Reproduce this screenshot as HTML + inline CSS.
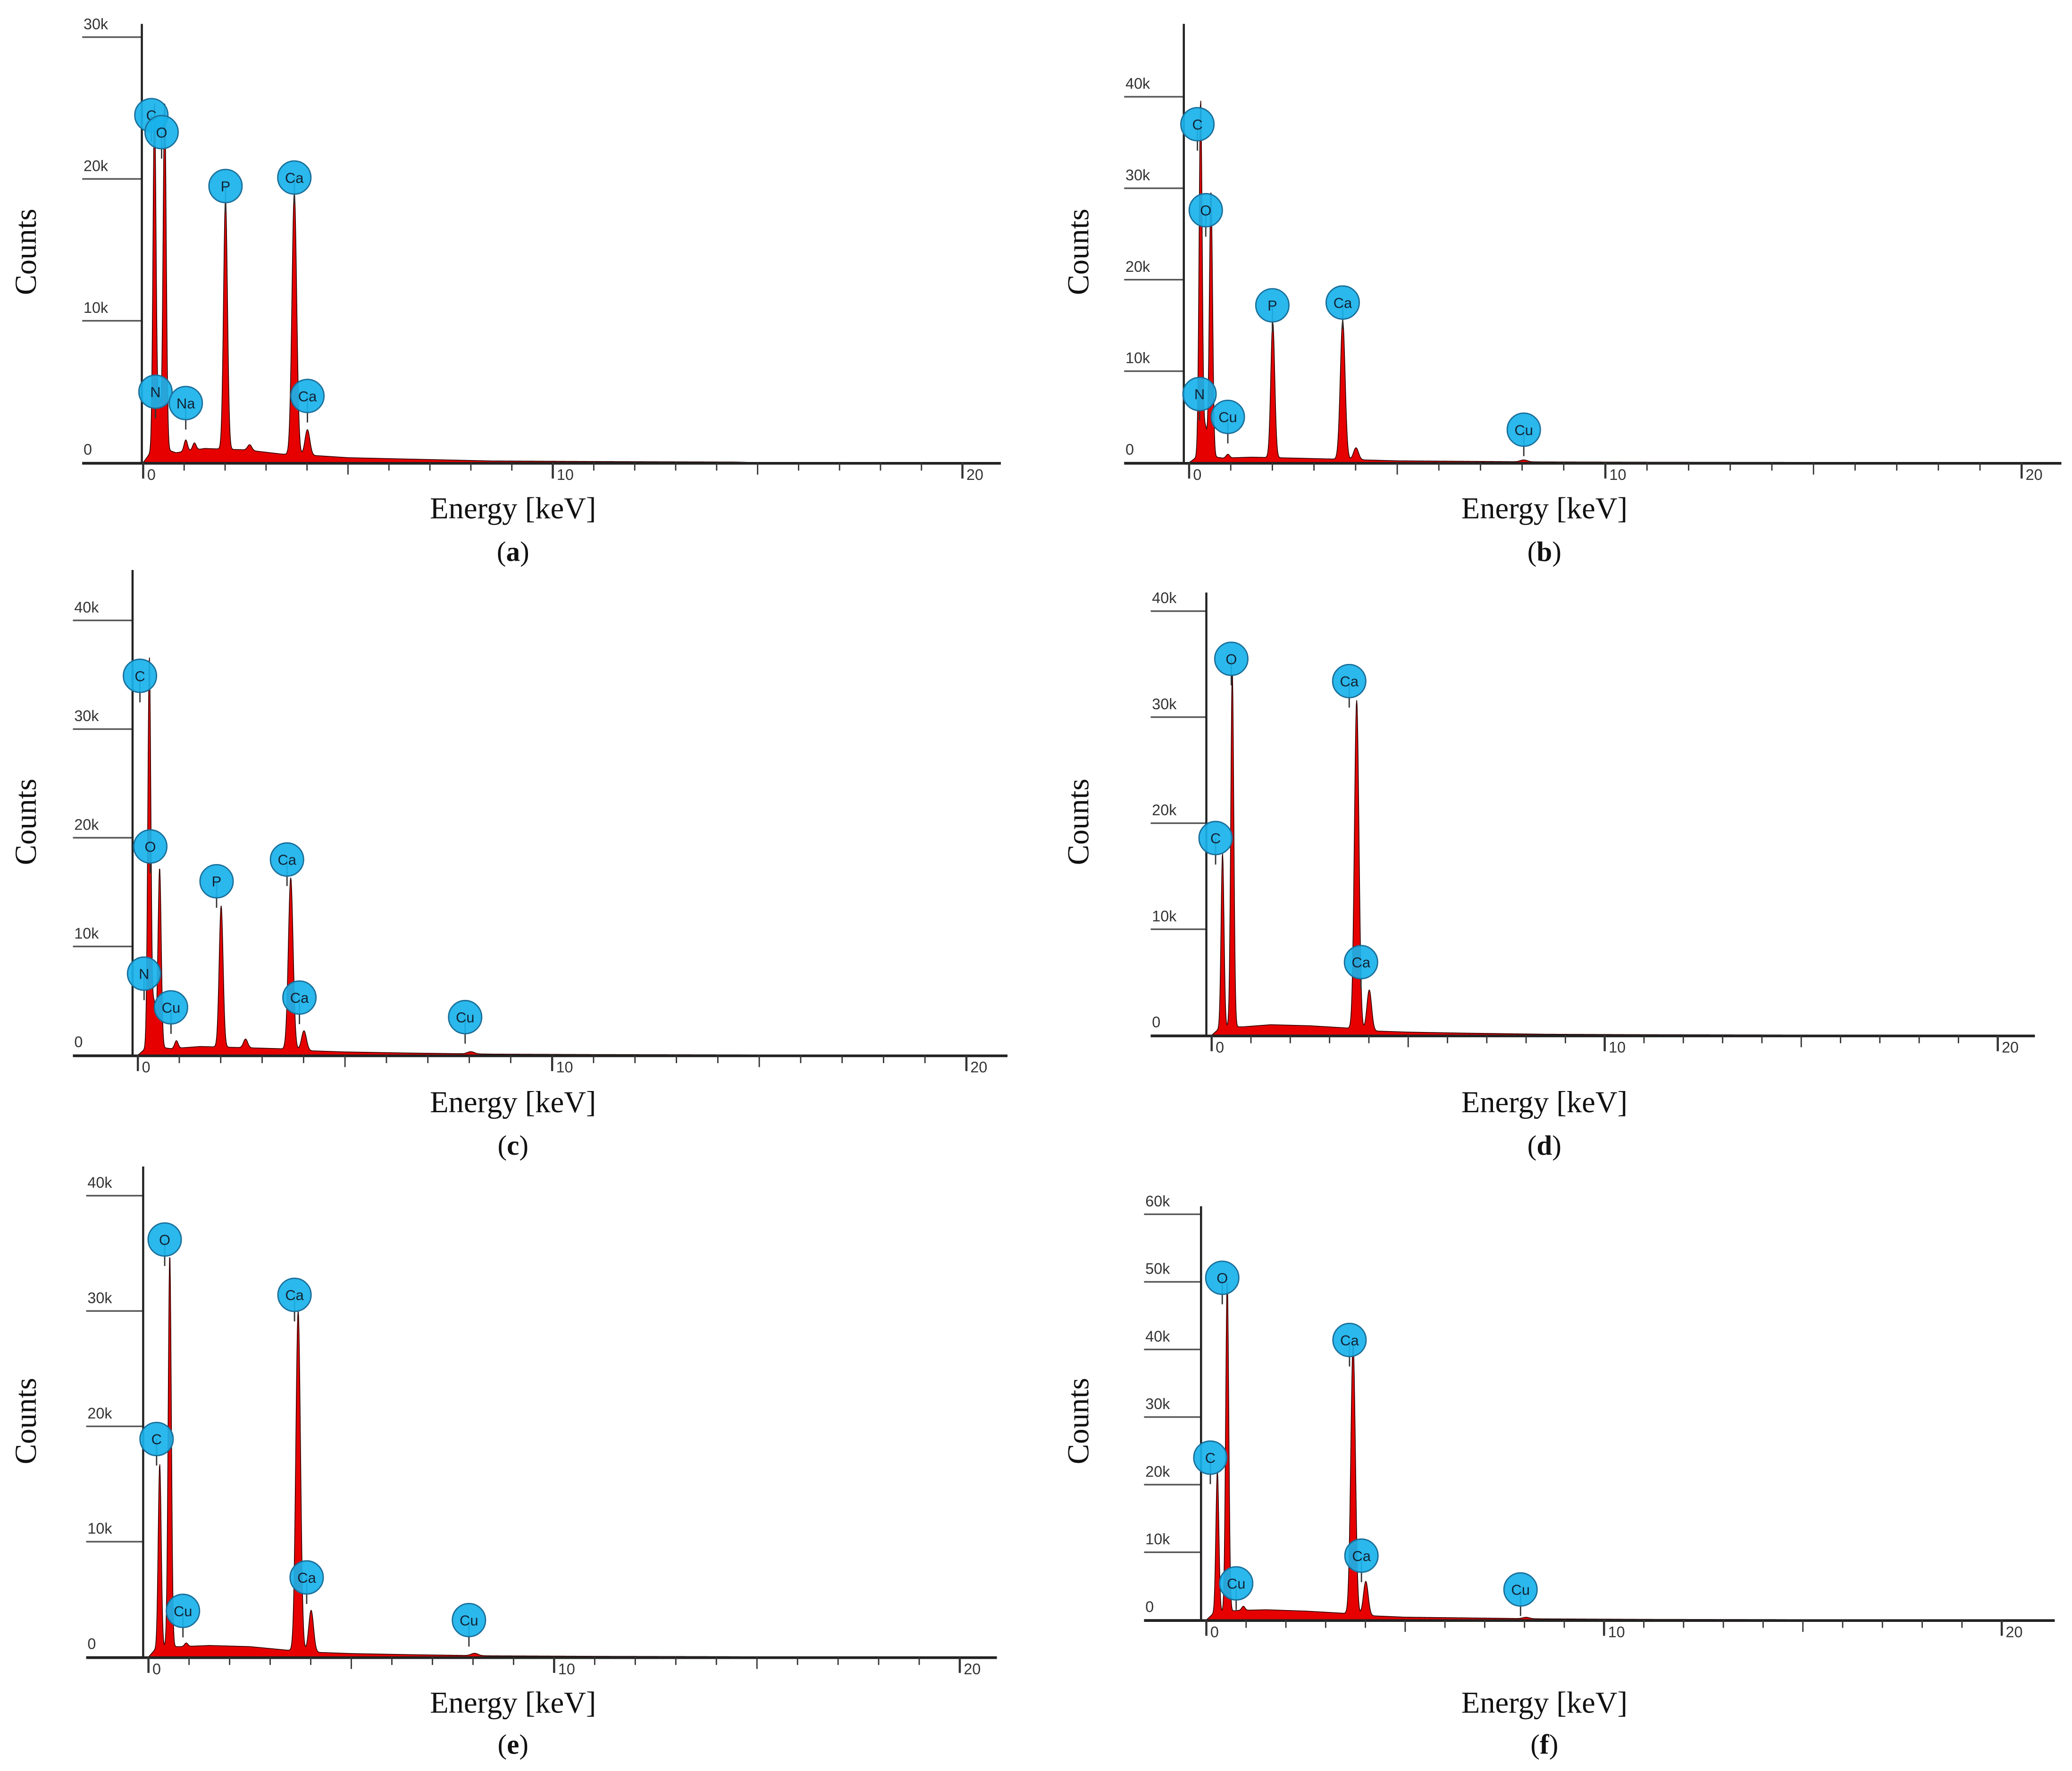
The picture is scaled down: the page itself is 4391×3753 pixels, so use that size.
<!DOCTYPE html>
<html><head><meta charset="utf-8"><style>
html,body{margin:0;padding:0;background:#fff}
svg{display:block}
.tk{font-family:"Liberation Sans",sans-serif;font-size:11.5px;fill:#333}
.ttl{font-family:"Liberation Serif",serif;font-size:23px;fill:#111}
.cap{font-family:"Liberation Serif",serif;font-size:21px;fill:#111}
.lb{font-family:"Liberation Sans",sans-serif;font-size:11px;fill:#123}
</style></head><body>
<svg id="fig" xmlns="http://www.w3.org/2000/svg" width="4391" height="3753" viewBox="0 0 1563 1336" preserveAspectRatio="none"></svg>
<script>
// ---- data (counts in thousands, energies in keV) ----
const yTicksA=[0,10,20,30], yTicksB=[0,10,20,30,40], yTicksC=[0,10,20,30,40], yTicksD=[0,10,20,30,40], yTicksE=[0,10,20,30,40], yTicksF=[0,10,20,30,40,50,60];
const xTickLabels=["0","10","20"];
const peaksA_E=[0.277,0.392,0.525,1.04,1.25,2.01,2.6,3.69,4.01];
const peaksA_H=[24.5,3.5,24.5,0.8,0.5,17.7,0.4,18.5,1.8];
const peaksB_E=[0.277,0.392,0.525,0.93,2.01,3.69,4.01,8.04];
const peaksB_H=[39,3,29,0.4,14.8,15.2,1.3,0.2];
const peaksC_E=[0.277,0.392,0.525,0.93,2.01,2.6,3.69,4.01,8.04];
const peaksC_H=[36,4,16.5,0.7,13,0.8,15.8,1.8,0.2];
const peaksD_E=[0.277,0.525,3.69,4.01];
const peaksD_H=[16.5,33.5,31,3.8];
const peaksE_E=[0.277,0.525,0.93,3.69,4.01,8.04];
const peaksE_H=[16,34,0.3,29.5,3.6,0.2];
const peaksF_E=[0.277,0.525,0.93,3.69,4.01,8.04];
const peaksF_H=[21,49,0.6,40,5,0.2];
const bgE=[0,0.15,0.4,0.8,1.5,2.5,3.4,4.2,5.0,6.5,8.5,11,14.5,15];
const bgA=[0,0.6,1.1,0.7,1.0,0.9,0.6,0.5,0.35,0.25,0.12,0.08,0.04,0];
const bgB=[0,0.5,0.8,0.5,0.6,0.5,0.4,0.3,0.2,0.15,0.08,0.05,0.03,0];
const bgC=[0,0.5,0.8,0.6,0.8,0.7,0.6,0.4,0.3,0.2,0.1,0.06,0.03,0];
const bgD=[0,0.5,0.8,0.8,1.0,0.9,0.7,0.4,0.3,0.2,0.1,0.06,0.03,0];
const bgE2=[0,0.6,0.9,0.9,1.0,0.9,0.6,0.4,0.3,0.2,0.1,0.06,0.03,0];
const bgF=[0,0.8,1.2,1.4,1.5,1.3,1.0,0.6,0.4,0.3,0.15,0.08,0.04,0];
const labA_N=["C","O","P","Ca","N","Na","Ca"], labA_E=[0.2,0.45,2.01,3.69,0.3,1.04,4.01], labA_Y=[24.5,23.3,19.5,20.1,5,4.2,4.7];
const labB_N=["C","O","P","Ca","N","Cu","Cu"], labB_E=[0.2,0.4,2.0,3.69,0.25,0.93,8.04], labB_Y=[37,27.6,17.2,17.5,7.5,5,3.6];
const labC_N=["C","O","P","Ca","N","Cu","Ca","Cu"], labC_E=[0.05,0.3,1.9,3.6,0.15,0.8,3.9,7.9], labC_Y=[34.9,19.2,16,18,7.5,4.4,5.3,3.5];
const labD_N=["O","Ca","C","Ca"], labD_E=[0.5,3.5,0.1,3.8], labD_Y=[35.5,33.4,18.6,6.9];
const labE_N=["O","Ca","C","Cu","Ca","Cu"], labE_E=[0.4,3.6,0.2,0.85,3.9,7.9], labE_Y=[36.2,31.4,18.9,4,6.9,3.2];
const labF_N=["O","Ca","C","Cu","Ca","Cu"], labF_E=[0.4,3.6,0.1,0.75,3.9,7.9], labF_Y=[50.6,41.4,24,5.4,9.5,4.5];

// ---- layout ----
const panels=[
 {id:"a",pe:peaksA_E,ph:peaksA_H,bg:bgA,ln:labA_N,le:labA_E,ly:labA_Y,yt:yTicksA,ax:107,atop:18,x0:108,x20:726,xend:755,y0:349,y10:242,tl:63,cx:20,cy:190,ex:387,ey:383,cpy:416},
 {id:"b",pe:peaksB_E,ph:peaksB_H,bg:bgB,ln:labB_N,le:labB_E,ly:labB_Y,yt:yTicksB,ax:893,atop:18,x0:897,x20:1525,xend:1555,y0:349,y10:280,tl:849,cx:814,cy:190,ex:1165,ey:383,cpy:416},
 {id:"c",pe:peaksC_E,ph:peaksC_H,bg:bgC,ln:labC_N,le:labC_E,ly:labC_Y,yt:yTicksC,ax:100,atop:430,x0:104,x20:729,xend:760,y0:796,y10:714,tl:56,cx:20,cy:620,ex:387,ey:831,cpy:864},
 {id:"d",pe:peaksD_E,ph:peaksD_H,bg:bgD,ln:labD_N,le:labD_E,ly:labD_Y,yt:yTicksD,ax:910,atop:447,x0:914,x20:1507,xend:1535,y0:781,y10:701,tl:869,cx:814,cy:620,ex:1165,ey:831,cpy:864},
 {id:"e",pe:peaksE_E,ph:peaksE_H,bg:bgE2,ln:labE_N,le:labE_E,ly:labE_Y,yt:yTicksE,ax:108,atop:880,x0:112,x20:724,xend:752,y0:1250,y10:1163,tl:66,cx:20,cy:1072,ex:387,ey:1284,cpy:1316},
 {id:"f",pe:peaksF_E,ph:peaksF_H,bg:bgF,ln:labF_N,le:labF_E,ly:labF_Y,yt:yTicksF,ax:906,atop:910,x0:910,x20:1510,xend:1550,y0:1222,y10:1171,tl:864,cx:814,cy:1072,ex:1165,ey:1284,cpy:1316}
];
const NS="http://www.w3.org/2000/svg";
const fig=document.getElementById("fig");
function mk(tag,attrs,parent){const e=document.createElementNS(NS,tag);for(const k in attrs)e.setAttribute(k,attrs[k]);parent.appendChild(e);return e;}
function interp(xs,ys,x){if(x<=xs[0])return ys[0];for(let i=1;i<xs.length;i++){if(x<=xs[i]){const t=(x-xs[i-1])/(xs[i]-xs[i-1]);return ys[i-1]+t*(ys[i]-ys[i-1]);}}return 0;}
panels.forEach(p=>{
 const g=mk("g",{},fig);
 
 
 const X=e=>p.x0+(p.x20-p.x0)*e/20;
 const Y=c=>p.y0-(p.y0-p.y10)*c/10;
 const top=p.atop;
 const spec=e=>{let v=interp(bgE,p.bg,e);for(let i=0;i<p.pe.length;i++){const s=0.035+0.006*p.pe[i];v+=p.ph[i]*Math.exp(-0.5*Math.pow((e-p.pe[i])/s,2));}return v;};
 // y ticks
 p.yt.forEach(t=>{const yy=Y(t);if(yy<top-6)return;
  const l=mk("line",{x1:p.tl-1,y1:yy,x2:p.ax,y2:yy,stroke:"#555","stroke-width":1.2},g);
  
  const tx=mk("text",{x:p.tl,y:yy-6,class:"tk"},g);tx.textContent=t===0?"0":t+"k";
  });
 // spectrum
 let d="M"+X(0)+","+Y(0);
 for(let e=0;e<=15;e+=0.01){d+=" L"+X(e).toFixed(2)+","+Math.max(top,Y(spec(e))).toFixed(2);}
 d+=" L"+X(15)+","+Y(0)+" Z";
 const sp=mk("path",{d:d,fill:"#e60000",stroke:"#300","stroke-width":0.6},g);
 
 // axes
 const ya=mk("line",{x1:p.ax,y1:top,x2:p.ax,y2:p.y0+1,stroke:"#222","stroke-width":1.6},g);
 
 const xa=mk("line",{x1:p.tl-1,y1:p.y0+0.5,x2:p.xend,y2:p.y0+0.5,stroke:"#222","stroke-width":2},g);
 
 for(let k=0;k<=20;k++){const len=(k%10===0)?12:(k%5===0?9:6);
  const tl=mk("line",{x1:X(k),y1:p.y0,x2:X(k),y2:p.y0+len,stroke:"#333","stroke-width":k%10===0?1.6:1},g);
  }
 xTickLabels.forEach((s,i)=>{const tx=mk("text",{x:X(i*10)+3,y:p.y0+13,class:"tk"},g);tx.textContent=s;
  });
 // labels
 p.ln.forEach((n,i)=>{const cx=X(p.le[i]),cy=Y(p.ly[i]);
  const ln=mk("line",{x1:cx,y1:cy,x2:cx,y2:cy+20,stroke:"#333","stroke-width":1},g);
  
  const c=mk("circle",{cx:cx,cy:cy,r:12.5,fill:"#19b2ea","fill-opacity":0.92,stroke:"#1a6f9a","stroke-width":1},g);
  
  const t=mk("text",{x:cx,y:cy+4,"text-anchor":"middle",class:"lb"},g);t.textContent=n;
  });
 // titles
 const ct=mk("text",{x:p.cx+7,y:p.cy,class:"ttl","text-anchor":"middle",transform:"rotate(-90 "+(p.cx+7)+" "+p.cy+")"},g);ct.textContent="Counts";
 
 const et=mk("text",{x:p.ex,y:p.ey+8,class:"ttl","text-anchor":"middle"},g);et.textContent="Energy [keV]";
 
 const cp=mk("text",{x:p.ex,y:p.cpy+7,class:"cap","text-anchor":"middle"},g);
 
 cp.appendChild(document.createTextNode("("));const b=mk("tspan",{"font-weight":"bold"},cp);b.textContent=p.id;cp.appendChild(document.createTextNode(")"));
});
</script>
</body></html>
